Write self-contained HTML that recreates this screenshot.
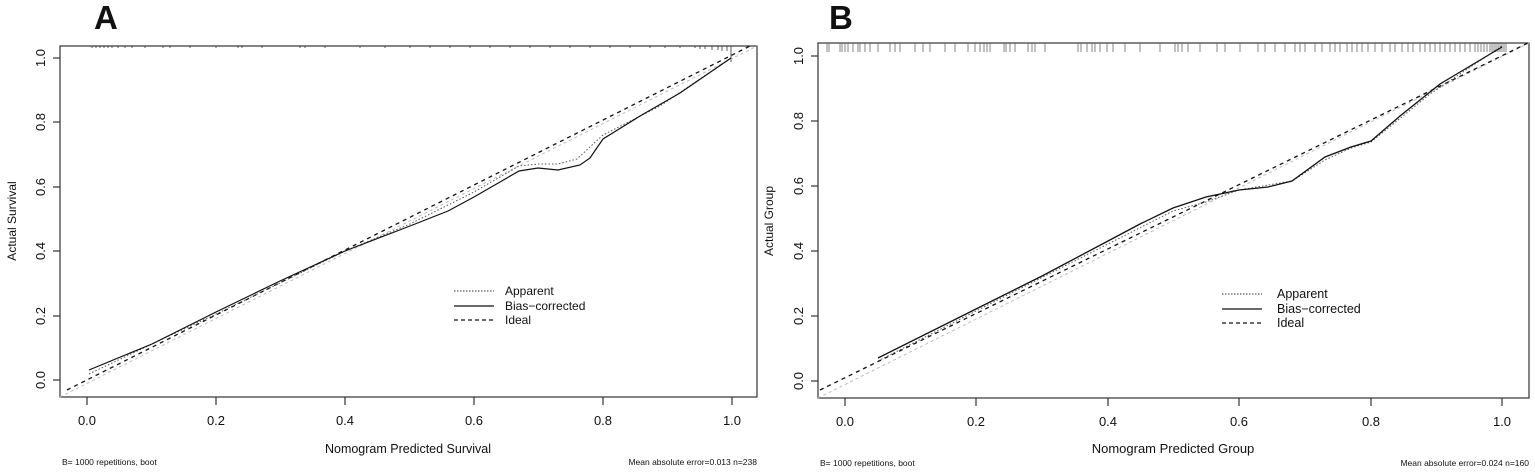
<!DOCTYPE html>
<html><head><meta charset="utf-8"><style>
html,body{margin:0;padding:0;background:#fff}
svg{display:block}
text{font-family:"Liberation Sans",Arial,sans-serif;fill:#111}
</style></head><body>
<svg width="1535" height="472" viewBox="0 0 1535 472" xmlns="http://www.w3.org/2000/svg">
<!-- ===== Panel A ===== -->
<text x="94" y="29" font-size="33" font-weight="bold">A</text>
<rect x="60" y="46" width="697" height="351" fill="none" stroke="#333" stroke-width="1.2"/>
<g stroke="#333" stroke-width="1.2">
<line x1="87" y1="397" x2="87" y2="405"/><line x1="216" y1="397" x2="216" y2="405"/>
<line x1="345" y1="397" x2="345" y2="405"/><line x1="474" y1="397" x2="474" y2="405"/>
<line x1="603" y1="397" x2="603" y2="405"/><line x1="732" y1="397" x2="732" y2="405"/>
<line x1="53" y1="380" x2="60" y2="380"/><line x1="53" y1="316" x2="60" y2="316"/>
<line x1="53" y1="251" x2="60" y2="251"/><line x1="53" y1="187" x2="60" y2="187"/>
<line x1="53" y1="122" x2="60" y2="122"/><line x1="53" y1="58" x2="60" y2="58"/>
</g>
<g font-size="13" text-anchor="middle">
<text x="87" y="425">0.0</text><text x="216" y="425">0.2</text><text x="345" y="425">0.4</text>
<text x="474" y="425">0.6</text><text x="603" y="425">0.8</text><text x="732" y="425">1.0</text>
<text transform="translate(45,380) rotate(-90)">0.0</text>
<text transform="translate(45,316) rotate(-90)">0.2</text>
<text transform="translate(45,251) rotate(-90)">0.4</text>
<text transform="translate(45,187) rotate(-90)">0.6</text>
<text transform="translate(45,122) rotate(-90)">0.8</text>
<text transform="translate(45,58) rotate(-90)">1.0</text>
<text x="408" y="453" font-size="12.5">Nomogram Predicted Survival</text>
<text transform="translate(16,221) rotate(-90)" font-size="12">Actual Survival</text>
</g>
<text x="62" y="465" font-size="8.5">B= 1000 repetitions, boot</text>
<text x="757" y="465" font-size="8.5" text-anchor="end">Mean absolute error=0.013 n=238</text>
<path stroke="#333" stroke-width="0.8" d="M92 46v2M96 46v2M100 46v2M104 46v2M108 46v2M112 46v2M118 46v2M125 46v2M132 46v2M145 46v2M163 46v2M170 46v2M190 46v2M216 46v2M238 46v2M242 46v2M262 46v2M300 46v2M305 46v2M325 46v2M360 46v2M385 46v2M410 46v2M430 46v2M450 46v2M470 46v2M490 46v2M510 46v2M530 46v2M550 46v2M570 46v2M590 46v2M610 46v2M630 46v2M650 46v2M665 46v2M680 46v2M695 46v2M700 46v3M705 46v3M712 46v4M718 46v4M722 46v5M727 46v5M731 46v16"/>
<line x1="60" y1="397" x2="757" y2="46" stroke="#bbb" stroke-width="1" stroke-dasharray="3,3"/>
<line x1="67" y1="390" x2="752" y2="45" stroke="#111" stroke-width="1.3" stroke-dasharray="4,4"/>
<polyline fill="none" stroke="#555" stroke-width="1" stroke-dasharray="1.5,2" points="89,374 152,344 216,314 280,283 345,251 410,224 474,192 519,166 538,164 558,164 577,159 603,135 660,106 731,58"/>
<polyline fill="none" stroke="#111" stroke-width="1.2" points="89,370 152,344 216,312 280,281 345,251 410,226 448,211 474,197 500,182 519,171 538,168 558,170 580,165 590,158 603,139 640,116 680,93 731,58"/>
<line x1="454" y1="291" x2="494" y2="291" stroke="#333" stroke-width="1" stroke-dasharray="1.5,1.5"/>
<line x1="454" y1="306" x2="494" y2="306" stroke="#111" stroke-width="1.2"/>
<line x1="454" y1="320" x2="494" y2="320" stroke="#111" stroke-width="1.2" stroke-dasharray="4,3"/>
<g font-size="12"><text x="505" y="295">Apparent</text><text x="505" y="310">Bias−corrected</text><text x="505" y="324">Ideal</text></g>

<!-- ===== Panel B ===== -->
<text x="829" y="29" font-size="33" font-weight="bold">B</text>
<rect x="818" y="43" width="711" height="355" fill="none" stroke="#333" stroke-width="1.2"/>
<g stroke="#333" stroke-width="1.2">
<line x1="845" y1="398" x2="845" y2="406"/><line x1="976" y1="398" x2="976" y2="406"/>
<line x1="1108" y1="398" x2="1108" y2="406"/><line x1="1239" y1="398" x2="1239" y2="406"/>
<line x1="1371" y1="398" x2="1371" y2="406"/><line x1="1502" y1="398" x2="1502" y2="406"/>
<line x1="811" y1="381" x2="818" y2="381"/><line x1="811" y1="316" x2="818" y2="316"/>
<line x1="811" y1="251" x2="818" y2="251"/><line x1="811" y1="186" x2="818" y2="186"/>
<line x1="811" y1="121" x2="818" y2="121"/><line x1="811" y1="56" x2="818" y2="56"/>
</g>
<g font-size="13" text-anchor="middle">
<text x="845" y="426">0.0</text><text x="976" y="426">0.2</text><text x="1108" y="426">0.4</text>
<text x="1239" y="426">0.6</text><text x="1371" y="426">0.8</text><text x="1502" y="426">1.0</text>
<text transform="translate(803,381) rotate(-90)">0.0</text>
<text transform="translate(803,316) rotate(-90)">0.2</text>
<text transform="translate(803,251) rotate(-90)">0.4</text>
<text transform="translate(803,186) rotate(-90)">0.6</text>
<text transform="translate(803,121) rotate(-90)">0.8</text>
<text transform="translate(803,56) rotate(-90)">1.0</text>
<text x="1173" y="453" font-size="13">Nomogram Predicted Group</text>
<text transform="translate(773,221) rotate(-90)" font-size="12">Actual Group</text>
</g>
<text x="820" y="466" font-size="8.5">B= 1000 repetitions, boot</text>
<text x="1529" y="466" font-size="8.5" text-anchor="end">Mean absolute error=0.024 n=160</text>
<path stroke="#666" stroke-width="0.8" d="M827 43v9M829 43v9M840 43v9M842 43v9M845 43v9M848 43v9M853 43v9M858 43v9M860 43v9M865 43v9M870 43v9M878 43v9M890 43v9M895 43v9M900 43v9M915 43v9M923 43v9M930 43v9M945 43v9M955 43v9M968 43v9M975 43v9M980 43v9M984 43v9M987 43v9M990 43v9M1004 43v9M1006 43v9M1010 43v9M1015 43v9M1028 43v9M1032 43v9M1035 43v9M1045 43v9M1078 43v9M1081 43v9M1087 43v9M1092 43v9M1095 43v9M1100 43v9M1107 43v9M1113 43v9M1125 43v9M1140 43v9M1160 43v9M1175 43v9M1178 43v9M1182 43v9M1188 43v9M1200 43v9M1217 43v9M1225 43v9M1240 43v9M1258 43v9M1265 43v9M1275 43v9M1285 43v9M1295 43v9M1300 43v9M1305 43v9M1315 43v9M1322 43v9M1330 43v9M1335 43v9M1340 43v9M1347 43v9M1352 43v9M1357 43v9M1362 43v9M1368 43v9M1375 43v9M1382 43v9M1390 43v9M1395 43v9M1402 43v9M1408 43v9M1413 43v9M1420 43v9M1425 43v9M1430 43v9M1435 43v9M1440 43v9M1445 43v9M1450 43v9M1455 43v9M1460 43v9M1465 43v9M1470 43v9M1475 43v9M1478 43v9M1481 43v9M1484 43v9M1487 43v9M1490 43v9M1492 43v9M1494 43v9M1496 43v9M1498 43v9M1500 43v9M1502 43v9M1504 43v9M1506 43v9"/>
<line x1="818" y1="398" x2="1529" y2="43" stroke="#bbb" stroke-width="1" stroke-dasharray="3,3"/>
<line x1="820" y1="390" x2="1528" y2="43" stroke="#111" stroke-width="1.3" stroke-dasharray="4,4"/>
<polyline fill="none" stroke="#555" stroke-width="1" stroke-dasharray="1.5,2" points="878,361 976,311 1108,244 1173,211 1206,202 1239,190 1292,181 1325,160 1351,148 1371,142 1430,94 1502,46"/>
<polyline fill="none" stroke="#111" stroke-width="1.3" points="878,358 976,309 1042,276 1108,241 1140,224 1173,208 1206,197 1239,190 1268,187 1292,181 1325,157 1351,147 1371,141 1400,116 1440,84 1502,47"/>
<line x1="1222" y1="294" x2="1262" y2="294" stroke="#333" stroke-width="1" stroke-dasharray="1.5,1.5"/>
<line x1="1222" y1="309" x2="1262" y2="309" stroke="#111" stroke-width="1.2"/>
<line x1="1222" y1="323" x2="1262" y2="323" stroke="#111" stroke-width="1.2" stroke-dasharray="4,3"/>
<g font-size="12.5"><text x="1277" y="298">Apparent</text><text x="1277" y="313">Bias−corrected</text><text x="1277" y="327">Ideal</text></g>
</svg>
</body></html>
